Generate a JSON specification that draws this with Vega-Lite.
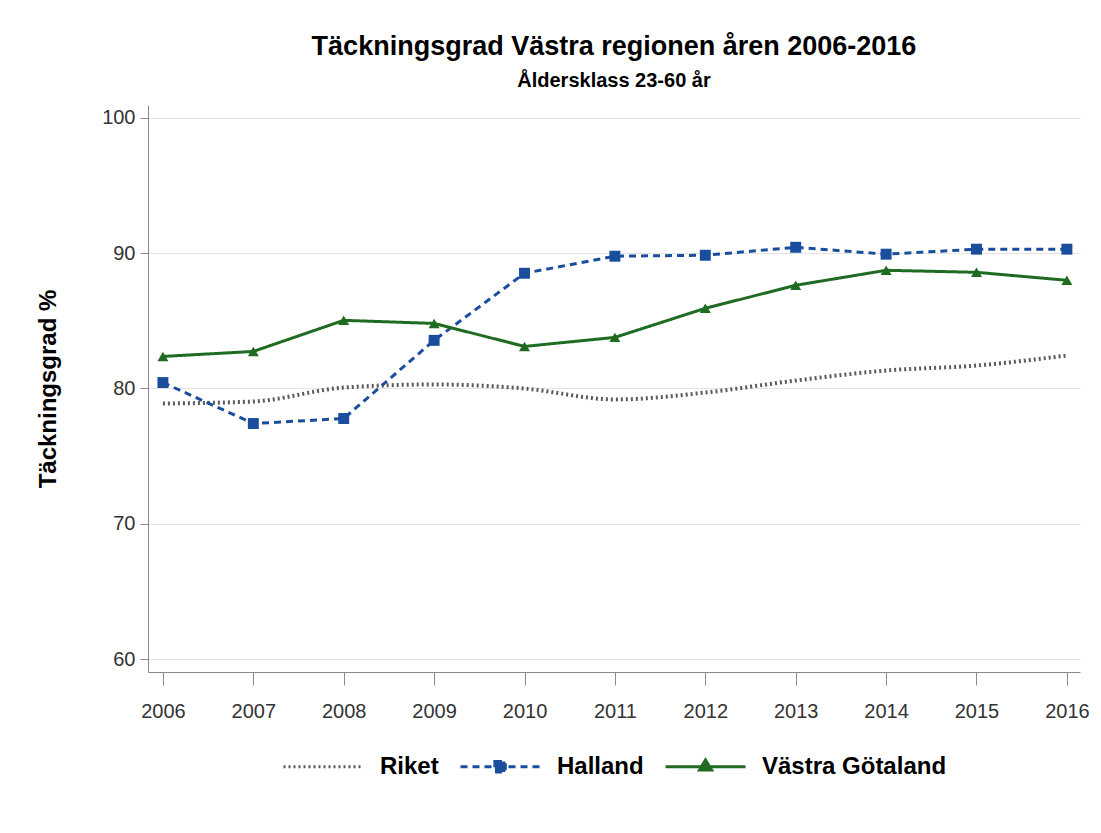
{
  "$schema": "https://vega.github.io/schema/vega-lite/v6.json",
  "width": 932,
  "height": 567,
  "autosize": {"type": "none"},
  "padding": {"left": 148, "top": 105, "right": 21, "bottom": 161},
  "background": "white",
  "config": {
    "view": {"stroke": null},
    "font": "Liberation Sans"
  },
  "title": {
    "text": "Täckningsgrad Västra regionen åren 2006-2016",
    "subtitle": "Åldersklass 23-60 år",
    "font": "Liberation Sans",
    "fontSize": 27,
    "fontWeight": "bold",
    "color": "black",
    "subtitleFont": "Liberation Sans",
    "subtitleFontSize": 20,
    "subtitleFontWeight": "bold",
    "subtitleColor": "black",
    "anchor": "middle",
    "offset": 13,
    "subtitlePadding": 10
  },
  "data": {
    "values": [
      {"year": 2006, "series": "Riket", "value": 78.89},
      {"year": 2007, "series": "Riket", "value": 79.04},
      {"year": 2008, "series": "Riket", "value": 80.07},
      {"year": 2009, "series": "Riket", "value": 80.30},
      {"year": 2010, "series": "Riket", "value": 80.0},
      {"year": 2011, "series": "Riket", "value": 79.19},
      {"year": 2012, "series": "Riket", "value": 79.70},
      {"year": 2013, "series": "Riket", "value": 80.59},
      {"year": 2014, "series": "Riket", "value": 81.33},
      {"year": 2015, "series": "Riket", "value": 81.70},
      {"year": 2016, "series": "Riket", "value": 82.44},
      {"year": 2006, "series": "Halland", "value": 80.44},
      {"year": 2007, "series": "Halland", "value": 77.41},
      {"year": 2008, "series": "Halland", "value": 77.78},
      {"year": 2009, "series": "Halland", "value": 83.56},
      {"year": 2010, "series": "Halland", "value": 88.52},
      {"year": 2011, "series": "Halland", "value": 89.78},
      {"year": 2012, "series": "Halland", "value": 89.85},
      {"year": 2013, "series": "Halland", "value": 90.44},
      {"year": 2014, "series": "Halland", "value": 89.93},
      {"year": 2015, "series": "Halland", "value": 90.30},
      {"year": 2016, "series": "Halland", "value": 90.30},
      {"year": 2006, "series": "Västra Götaland", "value": 82.37},
      {"year": 2007, "series": "Västra Götaland", "value": 82.74},
      {"year": 2008, "series": "Västra Götaland", "value": 85.04},
      {"year": 2009, "series": "Västra Götaland", "value": 84.81},
      {"year": 2010, "series": "Västra Götaland", "value": 83.11},
      {"year": 2011, "series": "Västra Götaland", "value": 83.78},
      {"year": 2012, "series": "Västra Götaland", "value": 85.93},
      {"year": 2013, "series": "Västra Götaland", "value": 87.63},
      {"year": 2014, "series": "Västra Götaland", "value": 88.74},
      {"year": 2015, "series": "Västra Götaland", "value": 88.59},
      {"year": 2016, "series": "Västra Götaland", "value": 88.00}
    ]
  },
  "encoding": {
    "x": {
      "field": "year",
      "type": "quantitative",
      "scale": {"domain": [2005.835, 2016.145], "nice": false, "zero": false},
      "axis": {
        "title": null,
        "values": [2006, 2007, 2008, 2009, 2010, 2011, 2012, 2013, 2014, 2015, 2016],
        "format": "d",
        "grid": false,
        "tickSize": 13,
        "labelPadding": 16,
        "labelFontSize": 20,
        "labelColor": "#333333",
        "labelFont": "Liberation Sans",
        "domainColor": "#8a8a8a",
        "tickColor": "#8a8a8a",
        "labelFlush": false,
        "labelOverlap": false
      }
    },
    "y": {
      "field": "value",
      "type": "quantitative",
      "scale": {"domain": [59.04, 100.96], "nice": false, "zero": false},
      "axis": {
        "title": "Täckningsgrad %",
        "titleFont": "Liberation Sans",
        "titleFontSize": 24,
        "titleFontWeight": "bold",
        "titleColor": "black",
        "titlePadding": 41,
        "values": [60, 70, 80, 90, 100],
        "grid": true,
        "gridColor": "#e3e3e3",
        "tickSize": 8,
        "labelPadding": 5,
        "labelFontSize": 20,
        "labelColor": "#333333",
        "labelFont": "Liberation Sans",
        "domainColor": "#8a8a8a",
        "tickColor": "#8a8a8a"
      }
    },
    "color": {
      "field": "series",
      "type": "nominal",
      "scale": {
        "domain": ["Riket", "Halland", "Västra Götaland"],
        "range": ["#5a5a5a", "#1a4e9c", "#1f6b22"]
      },
      "legend": {
        "orient": "none",
        "legendX": 134,
        "legendY": 620,
        "direction": "horizontal",
        "title": null,
        "padding": 0,
        "symbolSize": 6400,
        "symbolStrokeWidth": 3,
        "labelFont": "Liberation Sans",
        "labelFontSize": 24,
        "labelFontWeight": "bold",
        "labelColor": "black",
        "labelOffset": 15,
        "columnPadding": 15,
        "labelLimit": 400,
        "encode": {
          "symbols": {
            "update": {
              "shape": {"signal": "datum.value === 'Halland' ? 'M-1,0H1M-0.14,-0.13H0.12V0.13H-0.14Z' : (datum.value === 'Riket' ? 'M-1,0H1' : 'M-1,0H1M0,-0.17L0.15,0.08L-0.15,0.08Z')"},
              "fill": {"signal": "scale('color', datum.value)"}
            }
          }
        }
      }
    },
    "strokeDash": {
      "field": "series",
      "type": "nominal",
      "scale": {
        "domain": ["Riket", "Halland", "Västra Götaland"],
        "range": [[2, 3], [7, 5], [1, 0]]
      },
      "legend": {
        "orient": "none",
        "legendX": 134,
        "legendY": 620,
        "direction": "horizontal",
        "title": null
      }
    }
  },
  "layer": [
    {
      "transform": [{"filter": "datum.series === 'Riket'"}],
      "mark": {"type": "line", "interpolate": "monotone", "strokeWidth": 4}
    },
    {
      "transform": [{"filter": "datum.series !== 'Riket'"}],
      "mark": {"type": "line", "strokeWidth": 3}
    },
    {
      "transform": [{"filter": "datum.series !== 'Riket'"}],
      "mark": {"type": "point", "filled": true, "opacity": 1, "size": 120},
      "encoding": {
        "strokeDash": {"value": [1, 0]},
        "shape": {
          "field": "series",
          "type": "nominal",
          "scale": {"domain": ["Halland", "Västra Götaland"], "range": ["square", "triangle-up"]},
          "legend": null
        }
      }
    }
  ]
}
